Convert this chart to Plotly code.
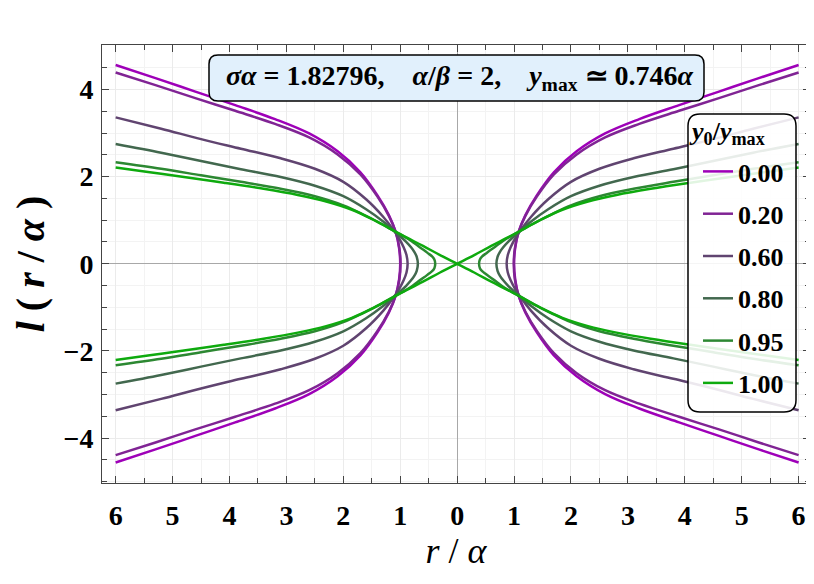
import plotly.graph_objects as go

# ---------------- data ----------------
labels = ["0.00", "0.20", "0.60", "0.80", "0.95", "1.00"]
colors = ["rgb(158,0,184)", "rgb(128,36,148)", "rgb(96,68,112)",
          "rgb(66,104,78)", "rgb(44,136,50)", "rgb(14,170,14)"]

r_000 = [1.00, 1.02, 1.08, 1.2, 1.4, 1.7, 2.1, 2.6, 3.2, 3.9, 4.6, 5.3, 6.0]
l_000 = [0.00, 0.36, 0.73, 1.12, 1.57, 2.10, 2.58, 2.99, 3.32, 3.64, 3.95, 4.26, 4.56]

r_020 = [0.995, 1.015, 1.08, 1.2, 1.4, 1.7, 2.1, 2.6, 3.2, 3.9, 4.6, 5.3, 6.0]
l_020 = [0.00, 0.36, 0.73, 1.10, 1.54, 2.05, 2.51, 2.90, 3.21, 3.51, 3.80, 4.10, 4.39]

r_060 = [0.87, 0.89, 0.94, 1.02, 1.12, 1.3, 1.6, 2.0, 2.5, 3.1, 3.8, 4.5, 5.2, 6.0]
l_060 = [0.00, 0.20, 0.38, 0.58, 0.78, 1.08, 1.48, 1.88, 2.18, 2.42, 2.64, 2.86, 3.10, 3.36]

r_080 = [0.69, 0.71, 0.75, 0.81, 0.9, 1.0, 1.12, 1.3, 1.6, 2.0, 2.5, 3.1, 3.8, 4.5, 5.2, 6.0]
l_080 = [0.00, 0.16, 0.27, 0.38, 0.51, 0.63, 0.77, 0.97, 1.25, 1.55, 1.79, 1.99, 2.17, 2.36, 2.55, 2.75]

r_095 = [0.385, 0.40, 0.44, 0.50, 0.58, 0.68, 0.8, 0.95, 1.12, 1.35, 1.65, 2.0, 2.5, 3.1, 3.8, 4.5, 5.2, 6.0]
l_095 = [0.00, 0.10, 0.17, 0.23, 0.31, 0.40, 0.52, 0.64, 0.76, 0.93, 1.13, 1.34, 1.55, 1.72, 1.88, 2.03, 2.18, 2.33]

r_100 = [0.0, 0.3, 0.6, 0.9, 1.2, 1.5, 1.85, 2.3, 2.8, 3.4, 4.1, 4.8, 5.4, 6.0]
l_100 = [0.00, 0.20, 0.41, 0.61, 0.82, 1.03, 1.24, 1.43, 1.58, 1.72, 1.86, 1.99, 2.10, 2.21]

curves_r = [r_000, r_020, r_060, r_080, r_095, r_100]
curves_l = [l_000, l_020, l_060, l_080, l_095, l_100]

x_tickvals = [-6, -5, -4, -3, -2, -1, 0, 1, 2, 3, 4, 5, 6]
x_ticktext = ["6", "5", "4", "3", "2", "1", "0", "1", "2", "3", "4", "5", "6"]
y_tickvals = [-4, -2, 0, 2, 4]
y_ticktext = ["\u22124", "\u22122", "0", "2", "4"]

# ---------------- geometry helpers ----------------
# the page body adds an 8px offset; the figure is sized to fit the window
OFF = 8
W, H = 814 - OFF, 584 - OFF
# target plot area in window pixels: x 102..810, y 45..483
ML = 102 - OFF
MT = 45 - OFF
MR = W - (810 - OFF)
MB = H - (483 - OFF)
PW, PH = W - ML - MR, H - MT - MB


def fx(px):  # window pixel -> paper
    return (px - OFF - ML) / PW


def fy(py):
    return (H - MB - (py - OFF)) / PH


def rounded_rect(x0, y0, x1, y1, rad):
    X = lambda v: f"{fx(v):.5f}"
    Y = lambda v: f"{fy(v):.5f}"
    return (f"M {X(x0+rad)},{Y(y0)} L {X(x1-rad)},{Y(y0)} Q {X(x1)},{Y(y0)} {X(x1)},{Y(y0+rad)} "
            f"L {X(x1)},{Y(y1-rad)} Q {X(x1)},{Y(y1)} {X(x1-rad)},{Y(y1)} "
            f"L {X(x0+rad)},{Y(y1)} Q {X(x0)},{Y(y1)} {X(x0)},{Y(y1-rad)} "
            f"L {X(x0)},{Y(y0+rad)} Q {X(x0)},{Y(y0)} {X(x0+rad)},{Y(y0)} Z")


fig = go.Figure()

for lab, col, rr, ll in zip(labels, colors, curves_r, curves_l):
    if rr[0] == 0:
        # curve through the origin: two straight-through branches forming an X
        xa = [r for r in reversed(rr)] + [-r for r in rr[1:]]
        ya = [l for l in reversed(ll)] + [-l for l in ll[1:]]
        xb = [-r for r in reversed(rr)] + [r for r in rr[1:]]
        xs, ys = xa + [None] + xb, ya + [None] + ya
    else:
        xr = [r for r in reversed(rr)] + [r for r in rr[1:]]
        yr = [l for l in reversed(ll)] + [-l for l in ll[1:]]
        xl = [-v for v in xr]
        xs, ys = xr + [None] + xl, yr + [None] + yr
    fig.add_trace(go.Scatter(
        x=xs, y=ys, mode="lines", name=lab, legendgroup=lab,
        line=dict(color=col, width=2.5, shape="spline", smoothing=1.0),
    ))

serif = "Liberation Serif"

axis_common = dict(
    showline=True, linecolor="#444", linewidth=1, mirror="ticks",
    ticks="inside", ticklen=7, tickcolor="#444", tickwidth=1,
    showgrid=True, gridcolor="#ebebeb", gridwidth=1,
    zeroline=True, zerolinecolor="#a8a8a8", zerolinewidth=1,
    tickfont=dict(family=serif, size=28, color="black", weight="bold"),
    automargin=False,
)

fig.update_xaxes(
    range=[-6.24, 6.20], tickvals=x_tickvals, ticktext=x_ticktext,
    minor=dict(dtick=0.5, ticks="inside", ticklen=5, tickcolor="#444",
               showgrid=True, gridcolor="#f3f3f3"),
    ticklabelstandoff=7,
    title=dict(text="<i>r</i> / <i>\u03b1</i>", font=dict(family=serif, size=36, color="black"), standoff=6),
    **axis_common,
)
fig.update_yaxes(
    range=[-5.03, 5.02], tickvals=y_tickvals, ticktext=y_ticktext,
    minor=dict(dtick=0.5, ticks="inside", ticklen=5, tickcolor="#444",
               showgrid=True, gridcolor="#f3f3f3"),
    ticklabelstandoff=2,
    title=dict(text="<b><i>l</i> ( <i>r</i> / <i>\u03b1</i> )</b>", font=dict(family=serif, size=40, color="black"), standoff=12),
    **axis_common,
)

# annotation box
fig.add_shape(type="path", xref="paper", yref="paper", layer="above",
              path=rounded_rect(209, 55, 704, 101, 9),
              line=dict(color="black", width=1.5), fillcolor="#e1f0fc")
fig.add_annotation(
    xref="paper", yref="paper", x=fx(460), y=fy(78), showarrow=False,
    xanchor="center", yanchor="middle",
    text=("<b><i>\u03c3\u03b1</i> = 1.82796,&nbsp;&nbsp;&nbsp;&nbsp;<i>\u03b1</i>/<i>\u03b2</i> = 2,"
          "&nbsp;&nbsp;&nbsp;&nbsp;<i>y</i><sub>max</sub> \u2243 0.746<i>\u03b1</i></b>"),
    font=dict(family=serif, size=28, color="black"),
)

# legend frame + title
fig.add_shape(type="path", xref="paper", yref="paper", layer="above",
              path=rounded_rect(688, 114, 796, 412, 12),
              line=dict(color="black", width=1.5), fillcolor="rgba(255,255,255,0.88)")
fig.add_annotation(
    xref="paper", yref="paper", x=fx(727), y=fy(133), showarrow=False,
    xanchor="center", yanchor="middle",
    text="<b><i>y</i><sub>0</sub>/<i>y</i><sub>max</sub></b>",
    font=dict(family=serif, size=26, color="black"),
)

fig.update_layout(
    width=W, height=H,
    margin=dict(l=ML, r=MR, t=MT, b=MB),
    paper_bgcolor="white", plot_bgcolor="white",
    showlegend=True,
    legend=dict(
        x=fx(698), y=fy(148), xanchor="left", yanchor="top",
        bgcolor="rgba(0,0,0,0)", borderwidth=0,
        font=dict(family=serif, size=26, color="black", weight="bold"),
        tracegroupgap=5.5, itemwidth=30,
    ),
)

fig.write_html("out.html")
